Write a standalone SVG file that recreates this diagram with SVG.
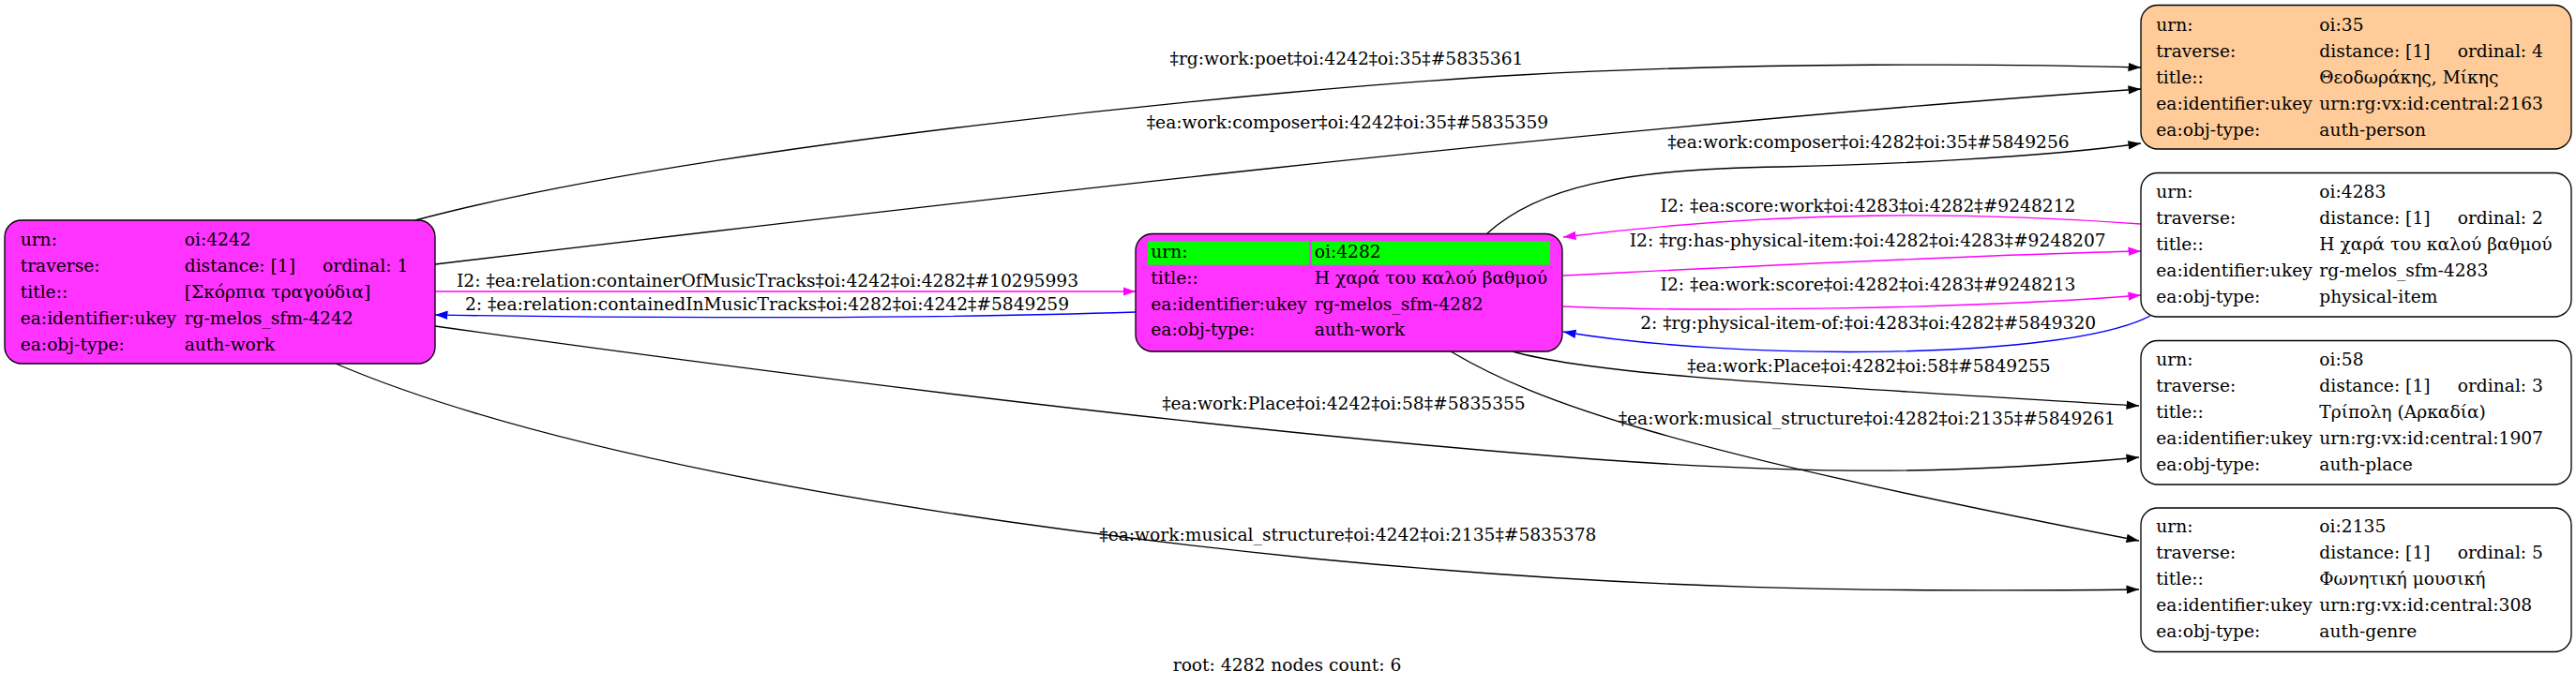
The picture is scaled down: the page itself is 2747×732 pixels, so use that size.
<svg xmlns="http://www.w3.org/2000/svg" width="2747" height="732" viewBox="0 0 2747 732">
<style>
.t{font-family:"DejaVu Serif","Liberation Serif",serif;font-size:18.67px;fill:#000}
.c{text-anchor:middle}
.box{stroke:#000;stroke-width:1.33}
.mag{fill:#ff33ff}
.peach{fill:#ffcc99}
.wht{fill:#fff}
.e{fill:none;stroke-width:1.33}
.k{stroke:#000}
.m{stroke:#ff00ff}
.b{stroke:#0000ff}
</style>
<defs>
<marker id="ak" viewBox="0 0 14 10" refX="13.5" refY="5" markerWidth="14" markerHeight="10" markerUnits="userSpaceOnUse" orient="auto"><path d="M0,0.3 L13.5,5 L0,9.7 Z" fill="#000"/></marker>
<marker id="am" viewBox="0 0 14 10" refX="13.5" refY="5" markerWidth="14" markerHeight="10" markerUnits="userSpaceOnUse" orient="auto"><path d="M0,0.3 L13.5,5 L0,9.7 Z" fill="#ff00ff"/></marker>
<marker id="ab" viewBox="0 0 14 10" refX="13.5" refY="5" markerWidth="14" markerHeight="10" markerUnits="userSpaceOnUse" orient="auto"><path d="M0,0.3 L13.5,5 L0,9.7 Z" fill="#0000ff"/></marker>
</defs>
<rect width="2747" height="732" fill="#fff"/>

<g id="edges">
<path class="e k" d="M443,235 C743,154.6 1371,93.9 1621,80 C1871,66.1 2150,68 2283,72" marker-end="url(#ak)"/>
<text class="t c" x="1436" y="69">‡rg:work:poet‡oi:4242‡oi:35‡#5835361</text>
<path class="e k" d="M464,282 C1000,218 1700,135 2283,95" marker-end="url(#ak)"/>
<text class="t c" x="1437" y="137">‡ea:work:composer‡oi:4242‡oi:35‡#5835359</text>
<path class="e k" d="M1586,249 C1640,200 1730,180 1900,178 C2000,176 2180,168 2283,153" marker-end="url(#ak)"/>
<text class="t c" x="1992.5" y="158">‡ea:work:composer‡oi:4282‡oi:35‡#5849256</text>
<path class="e m" d="M2283,239 C2100,226 1900,224 1667,253" marker-end="url(#am)"/>
<text class="t c" x="1992" y="225.7">I2: ‡ea:score:work‡oi:4283‡oi:4282‡#9248212</text>
<path class="e m" d="M1667,294 C1850,285 2100,272 2283,268" marker-end="url(#am)"/>
<text class="t c" x="1991.7" y="263.3">I2: ‡rg:has-physical-item:‡oi:4282‡oi:4283‡#9248207</text>
<path class="e m" d="M1667,327 C1800,333 2100,330 2283,315" marker-end="url(#am)"/>
<text class="t c" x="1992" y="310">I2: ‡ea:work:score‡oi:4282‡oi:4283‡#9248213</text>
<path class="e b" d="M2293,337 C2200,385 1850,385 1667,354" marker-end="url(#ab)"/>
<text class="t c" x="1992.2" y="350.7">2: ‡rg:physical-item-of:‡oi:4283‡oi:4282‡#5849320</text>
<path class="e m" d="M464,311 L1211,311" marker-end="url(#am)"/>
<text class="t c" x="818.5" y="306">I2: ‡ea:relation:containerOfMusicTracks‡oi:4242‡oi:4282‡#10295993</text>
<path class="e b" d="M1211,333 C1000,340 700,340 464,336" marker-end="url(#ab)"/>
<text class="t c" x="818" y="331">2: ‡ea:relation:containedInMusicTracks‡oi:4282‡oi:4242‡#5849259</text>
<path class="e k" d="M1613,375 C1700,400 1900,410 2281,433" marker-end="url(#ak)"/>
<text class="t c" x="1993" y="396.7">‡ea:work:Place‡oi:4282‡oi:58‡#5849255</text>
<path class="e k" d="M1547,375 C1640,430 1780,480 2281,577" marker-end="url(#ak)"/>
<text class="t c" x="1990.8" y="453">‡ea:work:musical_structure‡oi:4282‡oi:2135‡#5849261</text>
<path class="e k" d="M464,348 C800,395 1300,460 1700,490 C1950,508 2100,505 2281,488" marker-end="url(#ak)"/>
<text class="t c" x="1433" y="436.7">‡ea:work:Place‡oi:4242‡oi:58‡#5835355</text>
<path class="e k" d="M358,388 C550,470 900,545 1400,596 C1750,630 2000,632 2281,629" marker-end="url(#ak)"/>
<text class="t c" x="1437.4" y="576.5">‡ea:work:musical_structure‡oi:4242‡oi:2135‡#5835378</text>
</g>

<g id="n4242">
<rect class="box mag" x="5" y="235" width="459" height="153" rx="18"/>
<text class="t" x="21.7" y="261.7">urn:</text><text class="t" x="196.7" y="261.7">oi:4242</text>
<text class="t" x="21.7" y="289.8">traverse:</text><text class="t" x="196.7" y="289.8">distance: [1]</text><text class="t" x="344" y="289.8">ordinal: 1</text>
<text class="t" x="21.7" y="317.9">title::</text><text class="t" x="196.7" y="317.9">[Σκόρπια τραγούδια]</text>
<text class="t" x="21.7" y="346">ea:identifier:ukey</text><text class="t" x="196.7" y="346">rg-melos_sfm-4242</text>
<text class="t" x="21.7" y="374">ea:obj-type:</text><text class="t" x="196.7" y="374">auth-work</text>
</g>

<g id="n4282">
<rect class="box mag" x="1211" y="249.5" width="455" height="125.5" rx="18"/>
<rect x="1224" y="257.3" width="172" height="25.4" fill="#00ff00"/>
<rect x="1399" y="257.3" width="254" height="25.4" fill="#00ff00"/>
<text class="t" x="1227.3" y="275">urn:</text><text class="t" x="1401.7" y="275">oi:4282</text>
<text class="t" x="1227.3" y="302.8">title::</text><text class="t" x="1401.7" y="302.8">Η χαρά του καλού βαθμού</text>
<text class="t" x="1227.3" y="330.6">ea:identifier:ukey</text><text class="t" x="1401.7" y="330.6">rg-melos_sfm-4282</text>
<text class="t" x="1227.3" y="358.4">ea:obj-type:</text><text class="t" x="1401.7" y="358.4">auth-work</text>
</g>

<g id="n35">
<rect class="box peach" x="2283" y="5.5" width="459" height="153.5" rx="18"/>
<text class="t" x="2299.3" y="32.5">urn:</text><text class="t" x="2473.3" y="32.5">oi:35</text>
<text class="t" x="2299.3" y="60.5">traverse:</text><text class="t" x="2473.3" y="60.5">distance: [1]</text><text class="t" x="2620.7" y="60.5">ordinal: 4</text>
<text class="t" x="2299.3" y="88.5">title::</text><text class="t" x="2473.3" y="88.5">Θεοδωράκης, Μίκης</text>
<text class="t" x="2299.3" y="116.5">ea:identifier:ukey</text><text class="t" x="2473.3" y="116.5">urn:rg:vx:id:central:2163</text>
<text class="t" x="2299.3" y="144.5">ea:obj-type:</text><text class="t" x="2473.3" y="144.5">auth-person</text>
</g>

<g id="n4283">
<rect class="box wht" x="2283" y="184.5" width="459" height="153.5" rx="18"/>
<text class="t" x="2299.3" y="211.3">urn:</text><text class="t" x="2473.3" y="211.3">oi:4283</text>
<text class="t" x="2299.3" y="239.3">traverse:</text><text class="t" x="2473.3" y="239.3">distance: [1]</text><text class="t" x="2620.7" y="239.3">ordinal: 2</text>
<text class="t" x="2299.3" y="267.3">title::</text><text class="t" x="2473.3" y="267.3">Η χαρά του καλού βαθμού</text>
<text class="t" x="2299.3" y="295.3">ea:identifier:ukey</text><text class="t" x="2473.3" y="295.3">rg-melos_sfm-4283</text>
<text class="t" x="2299.3" y="323.3">ea:obj-type:</text><text class="t" x="2473.3" y="323.3">physical-item</text>
</g>

<g id="n58">
<rect class="box wht" x="2283" y="363.5" width="459" height="153.5" rx="18"/>
<text class="t" x="2299.3" y="389.5">urn:</text><text class="t" x="2473.3" y="389.5">oi:58</text>
<text class="t" x="2299.3" y="417.5">traverse:</text><text class="t" x="2473.3" y="417.5">distance: [1]</text><text class="t" x="2620.7" y="417.5">ordinal: 3</text>
<text class="t" x="2299.3" y="445.5">title::</text><text class="t" x="2473.3" y="445.5">Τρίπολη (Αρκαδία)</text>
<text class="t" x="2299.3" y="473.5">ea:identifier:ukey</text><text class="t" x="2473.3" y="473.5">urn:rg:vx:id:central:1907</text>
<text class="t" x="2299.3" y="501.5">ea:obj-type:</text><text class="t" x="2473.3" y="501.5">auth-place</text>
</g>

<g id="n2135">
<rect class="box wht" x="2283" y="542" width="459" height="153.5" rx="18"/>
<text class="t" x="2299.3" y="568">urn:</text><text class="t" x="2473.3" y="568">oi:2135</text>
<text class="t" x="2299.3" y="596">traverse:</text><text class="t" x="2473.3" y="596">distance: [1]</text><text class="t" x="2620.7" y="596">ordinal: 5</text>
<text class="t" x="2299.3" y="624">title::</text><text class="t" x="2473.3" y="624">Φωνητική μουσική</text>
<text class="t" x="2299.3" y="652">ea:identifier:ukey</text><text class="t" x="2473.3" y="652">urn:rg:vx:id:central:308</text>
<text class="t" x="2299.3" y="680">ea:obj-type:</text><text class="t" x="2473.3" y="680">auth-genre</text>
</g>

<text class="t c" x="1372.5" y="716">root: 4282 nodes count: 6</text>
</svg>
